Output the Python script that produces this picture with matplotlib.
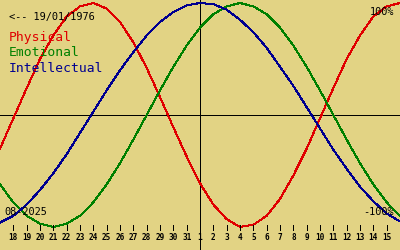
import matplotlib
matplotlib.use("Agg")
import matplotlib.pyplot as plt
from matplotlib.transforms import blended_transform_factory

# day offsets relative to 1 September 2025 (centre of the chart)
day_offsets = list(range(-15, 16))
physical = [-0.30, -0.03, 0.24, 0.50, 0.71, 0.88, 0.97, 1.00, 0.95, 0.83, 0.65, 0.42, 0.16,
            -0.11, -0.37, -0.61, -0.80, -0.93, -1.00, -0.98, -0.90, -0.75, -0.54, -0.30,
            -0.03, 0.24, 0.50, 0.71, 0.88, 0.97, 1.00]
emotional = [-0.62, -0.78, -0.90, -0.97, -1.00, -0.97, -0.90, -0.78, -0.62, -0.43, -0.22,
             0.00, 0.22, 0.43, 0.62, 0.78, 0.90, 0.97, 1.00, 0.97, 0.90, 0.78, 0.62, 0.43,
             0.22, 0.00, -0.22, -0.43, -0.62, -0.78, -0.90]
intellectual = [-0.96, -0.90, -0.80, -0.67, -0.52, -0.35, -0.16, 0.03, 0.22, 0.40, 0.56,
                0.71, 0.83, 0.92, 0.98, 1.00, 0.99, 0.94, 0.85, 0.74, 0.60, 0.43, 0.26,
                0.07, -0.12, -0.31, -0.48, -0.64, -0.77, -0.88, -0.95]
tick_offsets = list(range(-14, 15))
tick_labels = [str(d) for d in list(range(18, 32)) + list(range(1, 16))]
birth_label = "<-- 19/01/1976"
month_label = "08-2025"
series_names = ["Physical", "Emotional", "Intellectual"]

BG = "#e2d384"
RED = "#e00000"
GREEN = "#008000"
BLUE = "#000090"
FONT = "DejaVu Sans Mono"
LW = 0.72

fig = plt.figure(figsize=(4, 2.5), dpi=100, facecolor=BG)
ax = fig.add_axes([0, 0, 1, 1], facecolor=BG)
ax.set_xlim(-15, 15)
ax.set_ylim((115 - 250) / 112, 115 / 112)
ax.axis("off")

ax.axhline(0, color="black", lw=LW, antialiased=False)
ax.axvline(0, color="black", lw=LW, antialiased=False)

for vals, col in [(physical, RED), (emotional, GREEN), (intellectual, BLUE)]:
    ax.plot(day_offsets, vals, color=col, lw=LW, antialiased=False)

# day ticks
ax.vlines(tick_offsets, (115 - 230) / 112, (115 - 225) / 112, color="black", lw=LW,
          antialiased=False)
trans = blended_transform_factory(ax.transData, ax.transAxes)
for x, lab in zip(tick_offsets, tick_labels):
    ax.text(x, 1 - 238 / 250, lab, transform=trans, ha="center", va="center",
            fontsize=5.6, fontweight="bold", family=FONT, color="black", zorder=5)

def px(x, y):
    return x / 400, 1 - y / 250

fig.text(*px(9, 17), birth_label, ha="left", va="center", fontsize=7.4, family=FONT,
         color="black")
for name, col, y in zip(series_names, [RED, GREEN, BLUE], [38, 53, 68]):
    fig.text(*px(9, y), name, ha="left", va="center", fontsize=9.4, family=FONT, color=col)
fig.text(*px(394, 12), "100%", ha="right", va="center", fontsize=7.4, family=FONT,
         color="black")
fig.text(*px(394, 212), "-100%", ha="right", va="center", fontsize=7.4, family=FONT,
         color="black")
fig.text(*px(4, 212), month_label, ha="left", va="center", fontsize=7.4, family=FONT,
         color="black")

fig.savefig("out.png", dpi=100, facecolor=BG)
